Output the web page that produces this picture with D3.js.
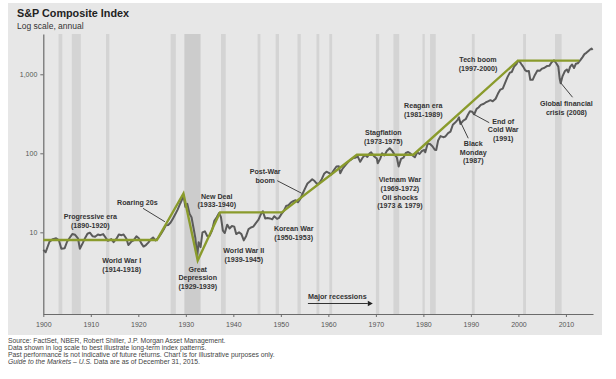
<!DOCTYPE html>
<html><head><meta charset="utf-8">
<script src="https://cdn.jsdelivr.net/npm/d3@7"></script>
<style>
body{margin:0;background:#fff;}
svg{display:block;font-family:"Liberation Sans",Arial,sans-serif;}
</style></head>
<body><svg id="c" width="616" height="379"></svg>
<script>
// ---- data ----
const recessionStart = [1903.2,1906.0,1913.2,1926.8,1929.7,1937.4,1945.1,1948.9,1953.5,1957.5,1960.2,1970.0,1973.7,1979.8,1981.4,1990.2,2001.0,2007.7];
const recessionEnd   = [1904.0,1907.9,1913.9,1927.9,1933.1,1938.4,1945.7,1949.6,1954.2,1958.1,1960.8,1970.7,1974.9,1980.3,1982.6,1990.8,2001.6,2009.1];

const spYears = [1900.0,1900.5,1901.3,1902.0,1902.7,1903.3,1903.8,1904.5,1905.0,1905.6,1906.1,1906.7,1907.3,1907.7,1908.3,1908.8,1909.3,1909.8,1910.4,1910.9,1911.5,1912.0,1912.6,1913.1,1913.6,1914.3,1914.8,1915.4,1915.9,1916.5,1916.9,1917.5,1917.9,1918.5,1919.0,1919.6,1920.1,1920.6,1921.1,1921.6,1922.1,1922.6,1923.1,1923.6,1924.2,1924.7,1925.3,1925.8,1926.3,1926.8,1927.3,1927.8,1928.3,1928.8,1929.2,1929.5,1929.9,1930.3,1930.8,1931.2,1931.6,1932.0,1932.4,1932.7,1933.1,1933.5,1934.0,1934.5,1935.0,1935.5,1936.0,1936.5,1937.0,1937.4,1937.8,1938.2,1938.7,1939.2,1939.7,1940.2,1940.6,1941.2,1941.7,1942.2,1942.7,1943.2,1943.7,1944.2,1944.7,1945.3,1945.8,1946.2,1946.7,1947.2,1947.7,1948.2,1948.6,1949.2,1949.6,1950.1,1950.6,1951.1,1951.6,1952.1,1952.6,1953.1,1953.6,1954.1,1954.6,1955.1,1955.6,1956.1,1956.6,1957.1,1957.6,1958.1,1958.6,1959.1,1959.6,1960.1,1960.6,1961.1,1961.7,1962.2,1962.5,1963.0,1963.6,1964.1,1964.6,1965.2,1965.7,1966.2,1966.7,1967.2,1967.7,1968.2,1968.7,1969.0,1969.6,1970.2,1970.4,1970.9,1971.3,1971.8,1972.3,1972.9,1973.4,1973.9,1974.4,1974.8,1975.3,1975.8,1976.3,1976.8,1977.3,1977.8,1978.2,1978.7,1979.2,1979.7,1980.2,1980.4,1980.9,1981.4,1981.9,1982.4,1982.7,1983.1,1983.6,1984.2,1984.6,1985.2,1985.7,1986.2,1986.7,1987.2,1987.5,1987.8,1988.4,1988.9,1989.4,1989.8,1990.3,1990.7,1991.2,1991.6,1992.1,1992.6,1993.1,1993.6,1994.1,1994.6,1995.2,1995.7,1996.2,1996.7,1997.2,1997.7,1998.2,1998.6,1999.1,1999.6,1999.9,2000.3,2000.6,2001.0,2001.4,2001.8,2002.2,2002.5,2003.0,2003.5,2004.0,2004.5,2005.0,2005.5,2006.0,2006.5,2007.0,2007.5,2008.0,2008.4,2008.7,2008.9,2009.3,2009.8,2010.2,2010.5,2010.9,2011.3,2011.7,2012.1,2012.5,2013.0,2013.5,2013.9,2014.3,2014.8,2015.1,2015.4,2015.6];
const spValues = [6.0,5.6,7.6,8.2,8.4,7.9,6.2,6.3,7.6,8.6,9.5,9.3,8.4,6.2,7.3,8.5,9.6,9.9,8.9,8.8,9.4,9.2,9.5,8.6,7.8,8.2,7.5,8.3,9.4,9.2,9.4,8.3,6.9,7.6,7.9,8.9,8.4,7.3,6.6,6.9,7.4,8.1,8.6,7.9,8.5,9.4,10.8,12.3,12.4,13.3,15.0,17.0,19.5,23.0,26.0,29.5,21.0,23.0,17.0,15.5,11.5,8.5,5.0,7.5,6.5,10.0,10.3,9.0,9.0,10.5,14.0,15.5,17.5,15.5,10.5,9.8,12.5,11.2,12.0,11.8,9.5,10.0,9.5,7.9,9.0,11.0,11.5,11.8,13.0,14.5,17.0,18.5,15.0,15.2,15.0,14.6,16.0,14.8,15.2,17.0,18.5,21.5,22.0,23.8,24.8,25.5,24.0,26.5,31.0,36.0,41.5,44.0,47.0,44.5,41.0,42.0,47.0,55.0,58.5,56.5,54.0,60.5,68.0,68.5,56.0,64.0,71.0,77.0,82.0,87.0,88.0,91.0,78.0,88.0,95.0,90.0,100.0,103.0,92.0,86.0,75.0,85.0,100.0,94.0,107.0,116.0,108.0,97.0,89.0,68.0,85.0,88.0,101.0,104.0,99.0,93.0,89.0,103.0,98.0,107.0,110.0,103.0,133.0,131.0,123.0,111.0,110.0,145.0,165.0,160.0,163.0,180.0,188.0,230.0,245.0,265.0,285.0,235.0,260.0,270.0,310.0,340.0,335.0,312.0,365.0,380.0,410.0,420.0,440.0,455.0,470.0,455.0,490.0,570.0,640.0,660.0,780.0,920.0,1050.0,1070.0,1250.0,1350.0,1480.0,1440.0,1350.0,1250.0,1130.0,1090.0,1100.0,850.0,850.0,990.0,1120.0,1110.0,1180.0,1210.0,1270.0,1280.0,1420.0,1500.0,1370.0,1250.0,870.0,770.0,950.0,1100.0,1150.0,1060.0,1250.0,1330.0,1200.0,1360.0,1380.0,1500.0,1650.0,1800.0,1870.0,1990.0,2060.0,2120.0,2030.0];

const trendYears  = [1900,1923.9,1929.5,1932.5,1937.2,1950.2,1966.0,1977.9,1999.9,2012.8];
const trendValues = [8,8,31,4.4,17.9,17.9,96,96,1490,1490];

const xTicks = [1900,1910,1920,1930,1940,1950,1960,1970,1980,1990,2000,2010];
const yTicks = [10,100,1000];

// annotations: text lines, anchored at (year, index value) of the first line's centre
const notes = [
  {t:["Progressive era","(1890-1920)"], yr:1909.9, v:15.8},
  {t:["Roaring 20s"], yr:1919.8, v:23.7},
  {t:["New Deal","(1933-1940)"], yr:1936.5, v:28.8},
  {t:["World War I","(1914-1918)"], yr:1916.5, v:4.37},
  {t:["Great","Depression","(1929-1939)"], yr:1932.5, v:3.43},
  {t:["World War II","(1939-1945)"], yr:1942.2, v:5.85},
  {t:["Korean War","(1950-1953)"], yr:1952.7, v:11.1},
  {t:["Post-War","boom"], yr:1946.7, v:58.5},
  {t:["Stagflation","(1973-1975)"], yr:1971.55, v:182},
  {t:["Vietnam War","(1969-1972)","Oil shocks","(1973 & 1979)"], yr:1975.06, v:46.9},
  {t:["Reagan era","(1981-1989)"], yr:1979.97, v:400},
  {t:["Black","Monday","(1987)"], yr:1990.5, v:134},
  {t:["End of","Cold War","(1991)"], yr:1996.8, v:256},
  {t:["Tech boom","(1997-2000)"], yr:1991.5, v:1549},
  {t:["Global financial","crisis (2008)"], yr:2010.1, v:430}
];
const pointers = [
  {x1:1921.0, v1:20.1, x2:1925.6, v2:13.6},
  {x1:1949.24, v1:45, x2:1954.38, v2:31.2},
  {x1:1989.44, v1:155, x2:1987.54, v2:269},
  {x1:1993.86, v1:244, x2:1990.49, v2:314},
  {x1:2011.4, v1:512, x2:2008.88, v2:783}
];

// ---- chart ----
const svg = d3.select("#c");
const x = d3.scaleLinear().domain([1900, 2015.7]).range([43.3, 593]);
const y = d3.scaleLog().domain([0.925, 3236]).range([314, 34]);

svg.append("rect").attr("x",8).attr("y",3).attr("width",594).attr("height",332).attr("fill","#e7e7e7");

// recession bands
svg.append("g").selectAll("rect").data(recessionStart).join("rect")
  .attr("x", (d)=>x(d))
  .attr("width", (d,i)=>x(recessionEnd[i])-x(d))
  .attr("y", y.range()[1]).attr("height", y.range()[0]-y.range()[1])
  .attr("fill", (d)=> d===1929.7 ? "#cccccc" : "#d4d4d4");

// axes
const ax = svg.append("g").attr("transform","translate(0,314)")
  .call(d3.axisBottom(x).tickValues(xTicks).tickFormat(d3.format("d")).tickSize(3).tickSizeOuter(0));
const ay = svg.append("g").attr("transform","translate(43.3,0)")
  .call(d3.axisLeft(y).tickValues(yTicks).tickFormat(d3.format(",")).tickSize(3).tickSizeOuter(0));
[ax,ay].forEach(g=>{
  g.select(".domain").attr("stroke","#6b6b6b").attr("stroke-width",1.2);
  g.selectAll(".tick line").attr("stroke","#6b6b6b");
  g.selectAll("text").attr("fill","#555").style("font-size","7px").style("font-family","Liberation Sans, Arial, sans-serif");
});
ax.selectAll("text").attr("dy","1.05em");

// S&P line
const line = d3.line().x((d,i)=>x(spYears[i])).y((d)=>y(d));
svg.append("path").attr("d", line(spValues)).attr("fill","none")
  .attr("stroke","#5b5b5b").attr("stroke-width",2).attr("stroke-linejoin","round");

// trend line
const tline = d3.line().x((d,i)=>x(trendYears[i])).y((d)=>y(d));
svg.append("path").attr("d", tline(trendValues)).attr("fill","none")
  .attr("stroke","#8a9b2c").attr("stroke-width",2.4).attr("stroke-linejoin","miter");

// pointers
svg.append("g").selectAll("line").data(pointers).join("line")
  .attr("x1",d=>x(d.x1)).attr("y1",d=>y(d.v1)).attr("x2",d=>x(d.x2)).attr("y2",d=>y(d.v2))
  .attr("stroke","#444").attr("stroke-width",1);

// annotations
const ng = svg.append("g").attr("font-size","7.1px").attr("font-weight","bold").attr("fill","#333").attr("text-anchor","middle");
notes.forEach(n=>{
  const t = ng.append("text").attr("x", x(n.yr)).attr("y", y(n.v));
  n.t.forEach((s,i)=> t.append("tspan").attr("x", x(n.yr)).attr("dy", i===0 ? "0.35em" : "1.25em").text(s));
});

// major recessions arrow
svg.append("text").attr("x",x(1955.7)).attr("y",299.2).attr("font-size","7.2px").attr("font-weight","bold").attr("fill","#333").text("Major recessions");
svg.append("line").attr("x1",x(1955.7)).attr("x2",x(1968.3)).attr("y1",303.5).attr("y2",303.5).attr("stroke","#333").attr("stroke-width",1);
svg.append("path").attr("d",`M${x(1968.3)},300.8 L${x(1968.3)+5},303.5 L${x(1968.3)},306.2 Z`).attr("fill","#222");

// titles
svg.append("text").attr("x",17).attr("y",17).attr("font-size","10.8px").attr("font-weight","bold").attr("fill","#222").text("S&P Composite Index");
svg.append("text").attr("x",17).attr("y",28.5).attr("font-size","8.5px").attr("fill","#333").text("Log scale, annual");

// footer
const foot = svg.append("g").attr("font-size","6.8px").attr("fill","#444");
foot.append("text").attr("x",8).attr("y",342.5).text("Source: FactSet, NBER, Robert Shiller, J.P. Morgan Asset Management.");
foot.append("text").attr("x",8).attr("y",349.5).text("Data shown in log scale to best illustrate long-term index patterns.");
foot.append("text").attr("x",8).attr("y",356.5).text("Past performance is not indicative of future returns. Chart is for illustrative purposes only.");
const f4 = foot.append("text").attr("x",8).attr("y",363.5);
f4.append("tspan").attr("font-style","italic").text("Guide to the Markets – U.S.");
f4.append("tspan").text(" Data are as of December 31, 2015.");
</script></body></html>
